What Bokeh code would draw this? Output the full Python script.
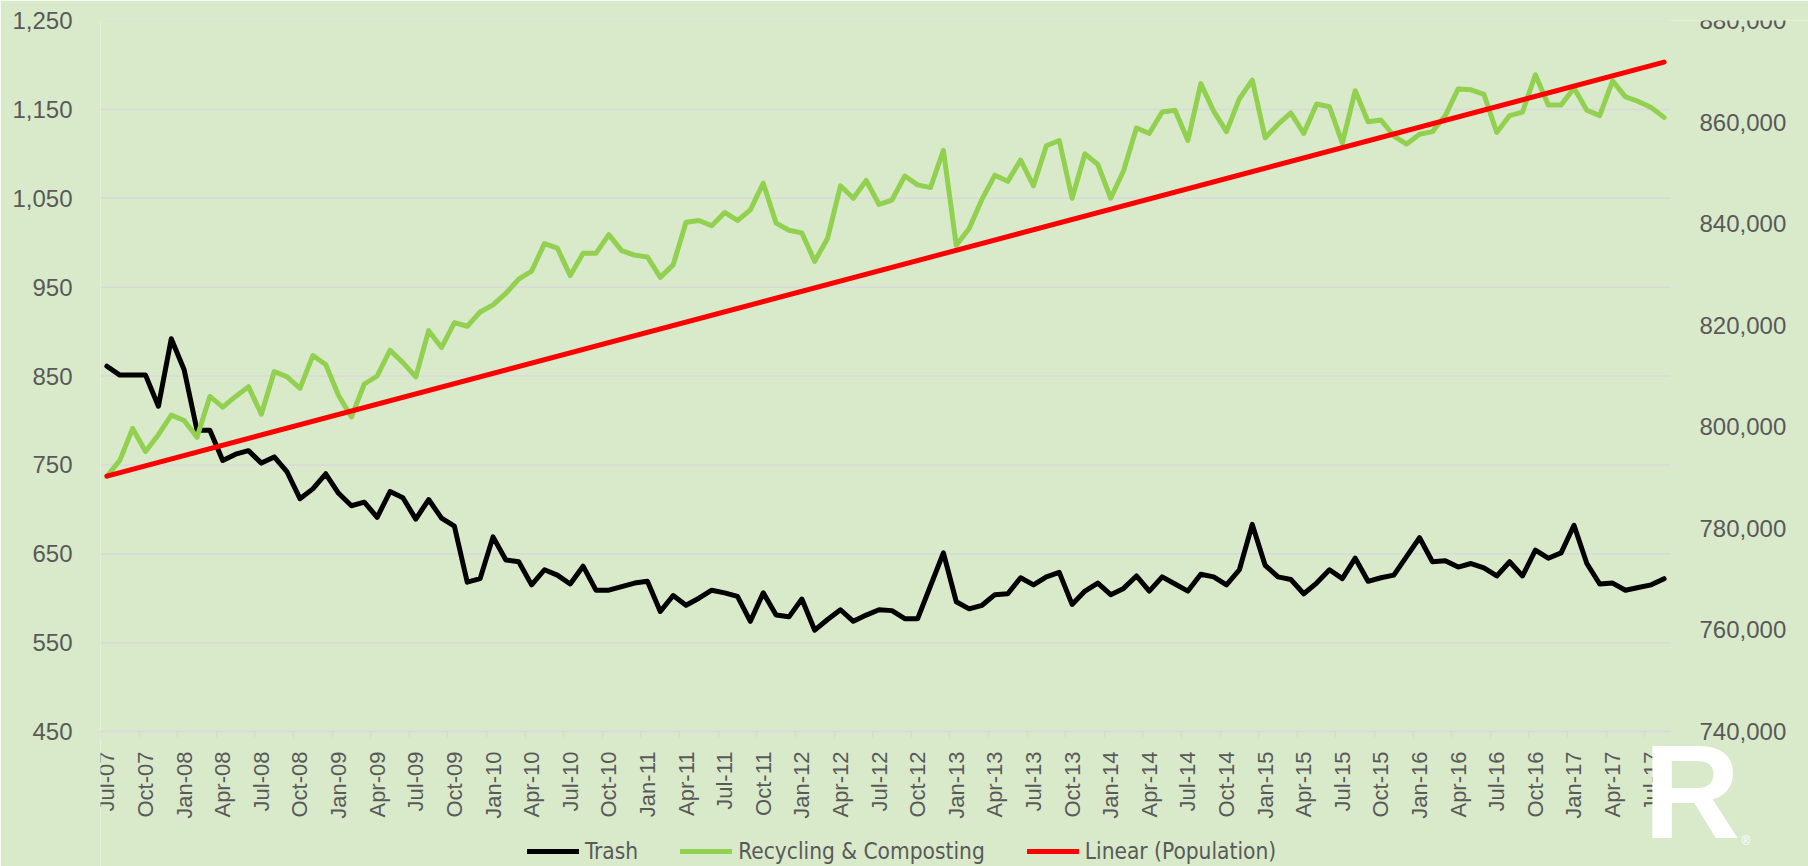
import math
import pandas as pd
from bokeh.plotting import figure
from bokeh.models import (Range1d, LinearAxis, FixedTicker, NumeralTickFormatter,
                          Legend, LegendItem, Label, ColumnDataSource, CustomJSTickFormatter)
from bokeh.embed import file_html
from bokeh.resources import INLINE

# ---------------- data ----------------
months = list(pd.date_range("2007-07-01", periods=122, freq="MS").strftime("%b-%y"))

trash = [861, 851, 851, 851, 816, 892, 857, 789, 789, 755,
         762, 766, 752, 759, 742, 712, 723, 740, 718, 704,
         708, 691, 720, 713, 689, 711, 690, 681, 618, 622,
         669, 643, 641, 615, 632, 626, 616, 636, 609, 609,
         613, 617, 619, 585, 603, 592, 600, 609, 606, 602,
         574, 606, 581, 579, 599, 564, 576, 587, 574, 581,
         587, 586, 577, 577, 614, 651, 596, 588, 592, 604,
         605, 623, 615, 624, 629, 593, 608, 617, 604, 611,
         625, 608, 624, 616, 608, 627, 624, 615, 632, 683,
         637, 624, 621, 605, 617, 632, 622, 645, 619, 623,
         626, 647, 668, 641, 642, 635, 639, 634, 625, 641,
         625, 654, 645, 651, 682, 639, 616, 617, 609, 612,
         615, 622]

recycling = [737, 755, 791, 765, 784, 806, 800, 781, 827, 815,
             827, 838, 807, 855, 849, 836, 873, 863, 828, 804,
             841, 850, 879, 865, 849, 901, 882, 910, 906, 922,
             930, 943, 959, 968, 999, 994, 963, 988, 988, 1009,
             991, 986, 984, 961, 975, 1023, 1025, 1019, 1034, 1025,
             1037, 1067, 1022, 1014, 1011, 979, 1005, 1064, 1050, 1070,
             1043, 1048, 1075, 1065, 1062, 1104, 997, 1016, 1049, 1076,
             1069, 1093, 1064, 1109, 1115, 1050, 1100, 1088, 1050, 1081,
             1129, 1123, 1147, 1149, 1115, 1179, 1148, 1125, 1162, 1183,
             1118, 1133, 1146, 1123, 1156, 1153, 1112, 1171, 1136, 1138,
             1120, 1111, 1122, 1125, 1143, 1173, 1172, 1167, 1124, 1143,
             1147, 1189, 1155, 1155, 1174, 1149, 1143, 1182, 1164, 1159,
             1152, 1141]

# linear trend of population (secondary axis), first and last month
pop_trend_months = [0, 121]
pop_trend_values = [790300, 871800]

left_ticks = [450, 550, 650, 750, 850, 950, 1050, 1150, 1250]
right_ticks = [740000, 760000, 780000, 800000, 820000, 840000, 860000, 880000]

# ---------------- layout / styling ----------------
BG = "#D9EACB"
GRID = "#D9D9D9"
TXT = "#595959"
FONT = "Liberation Sans"
LEGEND_FONT = "DejaVu Sans Condensed"

W, H = 1808, 866
PLOT_L, PLOT_R, PLOT_T, PLOT_B = 100, 1670, 20, 731   # visible chart area (px)

n = len(months)
xs = [i + 0.5 for i in range(n)]
y0, y1 = left_ticks[0], left_ticks[-1]
r0, r1_ = right_ticks[0], right_ticks[-1]

# the frame covers the whole area right/below the chart so that the legend and
# the logo are not clipped; ranges are extended so the chart keeps its place
x_end = n * (W - PLOT_L) / (PLOT_R - PLOT_L)
ppu = (PLOT_B - PLOT_T) / (y1 - y0)
y_bottom = y0 - (H - PLOT_B) / ppu
r_bottom = r0 - (y0 - y_bottom) * (r1_ - r0) / (y1 - y0)

p = figure(width=W, height=H, output_backend="svg", toolbar_location=None,
           x_range=Range1d(0, x_end), y_range=Range1d(y_bottom, y1),
           min_border_left=PLOT_L, min_border_right=0, min_border_top=PLOT_T,
           min_border_bottom=0)
p.background_fill_color = BG
p.border_fill_color = BG
p.outline_line_color = None
p.xgrid.visible = False
p.ygrid.visible = False

# horizontal gridlines, only across the chart area
p.segment(x0=[0] * len(left_ticks), x1=[n] * len(left_ticks), y0=left_ticks, y1=left_ticks,
          line_color=GRID, line_width=1.5)

# left axis
ya = p.yaxis[0]
ya.ticker = FixedTicker(ticks=left_ticks)
ya.formatter = NumeralTickFormatter(format="0,0")
ya.axis_line_color = None
ya.major_tick_line_color = None
ya.minor_tick_line_color = None
ya.major_tick_out = 0
ya.major_label_standoff = 28
ya.major_label_text_font = FONT
ya.major_label_text_font_size = "24px"
ya.major_label_text_color = TXT

# right axis, drawn at the right edge of the chart area
p.extra_y_ranges = {"pop": Range1d(r_bottom, r1_)}
ra = LinearAxis(y_range_name="pop", ticker=FixedTicker(ticks=right_ticks),
                formatter=NumeralTickFormatter(format="0,0"), fixed_location=n)
ra.axis_line_color = None
ra.major_tick_line_color = None
ra.minor_tick_line_color = None
ra.major_tick_out = 0
ra.major_label_standoff = 29
ra.major_label_text_font = FONT
ra.major_label_text_font_size = "24px"
ra.major_label_text_color = TXT
p.add_layout(ra, "right")

# x axis: labels centred on categories, tick marks on category boundaries
xa = p.xaxis[0]
xa.fixed_location = y0
xa.bounds = (0, n)
label_idx = list(range(0, n, 3))
xa.ticker = FixedTicker(ticks=[i + 0.5 for i in label_idx], minor_ticks=label_idx)
xa.formatter = CustomJSTickFormatter(args=dict(labels=months),
                                     code="return labels[Math.round(tick - 0.5)];")
xa.axis_line_color = GRID
xa.axis_line_width = 1.5
xa.major_tick_line_color = None
xa.major_tick_out = 0
xa.major_tick_in = 0
xa.minor_tick_line_color = GRID
xa.minor_tick_line_width = 1.5
xa.minor_tick_out = 7
xa.minor_tick_in = 0
xa.major_label_orientation = math.pi / 2
xa.major_label_standoff = 13
xa.major_label_text_font = FONT
xa.major_label_text_font_size = "22px"
xa.major_label_text_color = TXT

src = ColumnDataSource(dict(x=xs, trash=trash, recycling=recycling))
g1 = p.line("x", "trash", source=src, line_color="black", line_width=5,
            line_join="round", line_cap="round")
g2 = p.line("x", "recycling", source=src, line_color="#92D050", line_width=5,
            line_join="round", line_cap="round")
g3 = p.line(x=[xs[i] for i in pop_trend_months], y=pop_trend_values, y_range_name="pop",
            line_color="#FF0000", line_width=5, line_cap="round")

legend = Legend(items=[LegendItem(label="Trash", renderers=[g1]),
                       LegendItem(label="Recycling & Composting", renderers=[g2]),
                       LegendItem(label="Linear (Population)", renderers=[g3])],
                orientation="horizontal", location=(427, 2),
                padding=0, margin=0, spacing=42, label_standoff=6,
                glyph_width=52, glyph_height=24, label_height=24,
                label_text_font=LEGEND_FONT, label_text_font_size="22.5px",
                label_text_color=TXT, border_line_color=None, background_fill_alpha=0)
p.add_layout(legend)

# logo watermark
p.add_layout(Label(x=1543, y=75, x_units="screen", y_units="screen", text="R",
                   text_font=FONT, text_font_style="bold", text_font_size="134px",
                   text_color="white", text_baseline="alphabetic"))
p.add_layout(Label(x=1641, y=26, x_units="screen", y_units="screen", text="®",
                   text_font=FONT, text_font_size="12px",
                   text_color="white", text_baseline="alphabetic"))

open("out.html", "w").write(file_html(p, INLINE))
